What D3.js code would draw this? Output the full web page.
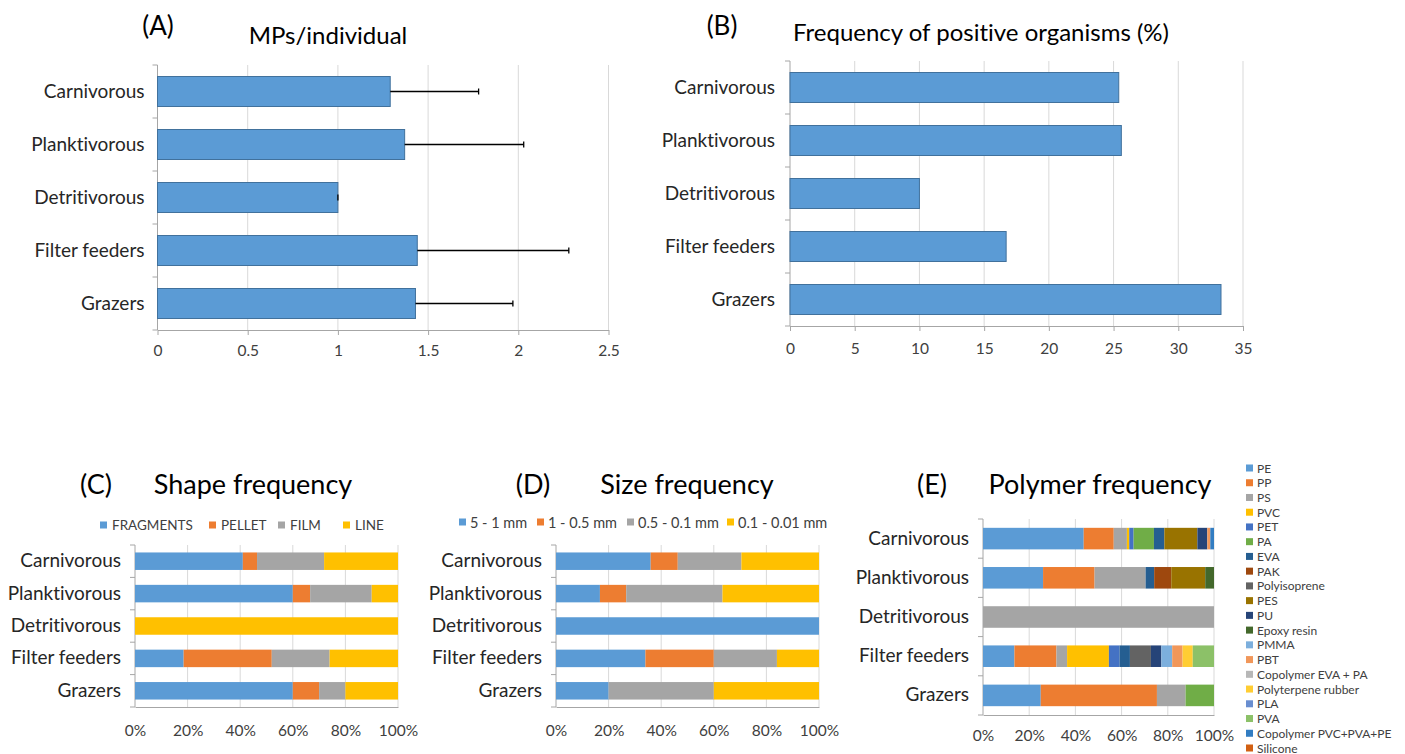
<!DOCTYPE html>
<html><head><meta charset="utf-8">
<script src="https://cdn.jsdelivr.net/npm/d3@7"></script>
<style>body{margin:0;background:#fff}svg{display:block;font-family:Lato,"Open Sans",sans-serif;font-variant-ligatures:none}</style>
</head><body><svg id="c" width="1405" height="754"></svg>
<script>
// ---------- DATA ----------
const categories = ["Carnivorous","Planktivorous","Detritivorous","Filter feeders","Grazers"];
const mpsPerIndividual = [1.29, 1.37, 1.00, 1.44, 1.43];
const mpsSD = [0.49, 0.66, 0.00, 0.84, 0.54];
const mpsTicks = [0, 0.5, 1, 1.5, 2, 2.5];
const positiveFreq = [25.4, 25.6, 10.0, 16.7, 33.3];
const positiveTicks = [0, 5, 10, 15, 20, 25, 30, 35];

const shapeKeys = ["FRAGMENTS","PELLET","FILM","LINE"];
const shapeFragments = [41, 60, 0, 18.5, 60];
const shapePellet    = [5.4, 6.6, 0, 33.5, 10];
const shapeFilm      = [25.5, 23.4, 0, 22, 10];
const shapeLine      = [28.1, 10, 100, 26, 20];

const sizeKeys = ["5 - 1 mm","1 - 0.5 mm","0.5 - 0.1 mm","0.1 - 0.01 mm"];
const size5to1     = [36, 16.7, 100, 34, 20];
const size1to05    = [10.3, 10, 0, 26, 0];
const size05to01   = [24.2, 36.6, 0, 24, 40];
const size01to001  = [29.5, 36.7, 0, 16, 40];

const pctTicks = [0, 0.2, 0.4, 0.6, 0.8, 1];

const polymerKeys = ["PE","PP","PS","PVC","PET","PA","EVA","PAK","Polyisoprene","PES","PU","Epoxy resin","PMMA","PBT","Copolymer EVA + PA","Polyterpene rubber","PLA","PVA","Copolymer PVC+PVA+PE","Silicone"];
const polymerColors = ["#5B9BD5","#ED7D31","#A5A5A5","#FFC000","#4472C4","#70AD47","#255E91","#9E480E","#636363","#997300","#264478","#43682B","#7CAFDD","#F1975A","#B7B7B7","#FFCD33","#698ED0","#8CC168","#327DC2","#D26012"];
const polyCarnivorous   = [43.6,13.0,5.7,1.0,1.9,8.8,4.5,0,0,14.3,4.3,0,0,1.3,0,0,0,0,1.6,0];
const polyPlanktivorous = [26.0,22.3,22.1,0,0,0,3.7,7.4,0,14.7,0,3.8,0,0,0,0,0,0,0,0];
const polyDetritivorous = [0,0,100,0,0,0,0,0,0,0,0,0,0,0,0,0,0,0,0,0];
const polyFilterFeeders = [13.6,18.2,4.6,18.1,4.6,0,4.5,0,9.1,0,4.5,0,4.7,4.5,0,4.4,0,9.2,0,0];
const polyGrazers       = [25.0,50.3,12.4,0,0,12.3,0,0,0,0,0,0,0,0,0,0,0,0,0,0];

// ---------- DRAW ----------
const svg = d3.select("#c");
const AX = "#a6a6a6", GRID = "#d9d9d9", TXT = "#262626", TICK = "#404040";

function frame(o) {
  const x = d3.scaleLinear().domain(o.domain).range([o.x0, o.x1]);
  const y = d3.scaleBand().domain(categories).range([o.y0, o.y1])
    .paddingInner(o.pad).paddingOuter(o.pad / 2);
  const g = svg.append("g");
  g.selectAll(".grid").data(o.ticks.slice(1)).join("line")
    .attr("x1", d => x(d)).attr("x2", d => x(d))
    .attr("y1", o.y0).attr("y2", o.y1)
    .attr("stroke", GRID).attr("stroke-width", 1);
  const xa = g.append("g").attr("transform", `translate(0,${o.y1})`)
    .call(d3.axisBottom(x).tickValues(o.ticks).tickFormat(o.fmt).tickSize(o.xTick).tickPadding(o.tickPad).tickSizeOuter(0));
  xa.select(".domain").attr("stroke", AX);
  xa.selectAll(".tick line").attr("stroke", AX);
  xa.selectAll("text").attr("fill", TICK).style("font-size", "15.5px").style("font-family", "Lato");
  const ya = g.append("g").attr("transform", `translate(${o.x0},0)`)
    .call(d3.axisLeft(y).tickSize(0).tickPadding(o.labelGap));
  ya.select(".domain").remove();
  ya.selectAll("text").attr("fill", TXT).style("font-size", "19px").style("font-family", "Lato");
  g.append("line").attr("x1", o.x0).attr("x2", o.x0).attr("y1", o.y0).attr("y2", o.y1)
    .attr("stroke", AX);
  g.selectAll(".bt").data(d3.range(categories.length + 1)).join("line")
    .attr("x1", o.x0 - 5).attr("x2", o.x0)
    .attr("y1", i => o.y0 + i * y.step()).attr("y2", i => o.y0 + i * y.step())
    .attr("stroke", AX);
  return {x, y, g};
}

function title(label, lx, text, tx, y, size, anchor) {
  svg.append("text").attr("x", lx).attr("y", y).attr("text-anchor", "middle")
    .attr("dominant-baseline", "central").style("font-size", size + "px").attr("fill", "#000").text(label);
  svg.append("text").attr("x", tx).attr("y", y).attr("text-anchor", anchor || "middle")
    .attr("dominant-baseline", "central").style("font-size", size + "px").attr("fill", "#000").text(text);
}

// Panel A
{
  const {x, y, g} = frame({x0:157.5, x1:608.5, y0:65, y1:330, domain:[0,2.5], ticks:mpsTicks,
    fmt:d => String(d), pad:0.434, labelGap:13, xTick:5, tickPad:10});
  const data = categories.map((c,i) => ({c, v:mpsPerIndividual[i], e:mpsSD[i]}));
  g.selectAll(".bar").data(data).join("rect")
    .attr("x", x(0)).attr("y", d => y(d.c)).attr("width", d => x(d.v) - x(0)).attr("height", y.bandwidth())
    .attr("fill", "#5B9BD5").attr("stroke", "#41719C").attr("stroke-width", 1);
  g.selectAll(".eb").data(data).join("line")
    .attr("x1", d => x(d.v)).attr("x2", d => x(d.v + d.e))
    .attr("y1", d => y(d.c) + y.bandwidth()/2).attr("y2", d => y(d.c) + y.bandwidth()/2)
    .attr("stroke", "#000").attr("stroke-width", 1.3);
  g.selectAll(".cap").data(data).join("line")
    .attr("x1", d => x(d.v + d.e)).attr("x2", d => x(d.v + d.e))
    .attr("y1", d => y(d.c) + y.bandwidth()/2 - 3).attr("y2", d => y(d.c) + y.bandwidth()/2 + 3)
    .attr("stroke", "#000").attr("stroke-width", 1.3);
  title("(A)", 158, "", 0, 25, 26);
  title("", 0, "MPs/individual", 328, 34, 24);
}

// Panel B
{
  const {x, y, g} = frame({x0:790, x1:1243, y0:61, y1:326, domain:[0,35], ticks:positiveTicks,
    fmt:d => String(d), pad:0.434, labelGap:15, xTick:5, tickPad:12});
  g.selectAll(".bar").data(categories.map((c,i) => ({c, v:positiveFreq[i]}))).join("rect")
    .attr("x", x(0)).attr("y", d => y(d.c)).attr("width", d => x(d.v) - x(0)).attr("height", y.bandwidth())
    .attr("fill", "#5B9BD5").attr("stroke", "#41719C").attr("stroke-width", 1);
  title("(B)", 722, "", 0, 25, 26);
  title("", 0, "Frequency of positive organisms (%)", 793, 31, 24, "start");
}

function stacked(o, keys, colors, arrays) {
  const {x, y, g} = frame({x0:o.x0, x1:o.x1, y0:o.y0, y1:o.y1, domain:[0,1], ticks:pctTicks,
    fmt:d3.format(".0%"), pad:o.pad, labelGap:14, xTick:0, tickPad:o.tickPad});
  const rows = categories.map((c,i) => {
    const r = {c}; keys.forEach((k,j) => r[k] = arrays[j][i]); return r;
  });
  const series = d3.stack().keys(keys).offset(d3.stackOffsetExpand)(rows);
  g.selectAll(".s").data(series).join("g").attr("fill", (d,i) => colors[i])
    .selectAll("rect").data(d => d).join("rect")
    .attr("x", d => x(d[0])).attr("width", d => x(d[1]) - x(d[0]))
    .attr("y", d => y(d.data.c)).attr("height", y.bandwidth());
}

const four = ["#5B9BD5","#ED7D31","#A5A5A5","#FFC000"];

// Panel C
stacked({x0:135, x1:398, y0:545, y1:707, pad:0.46, tickPad:18}, shapeKeys, four,
  [shapeFragments, shapePellet, shapeFilm, shapeLine]);
title("(C)", 96, "Shape frequency", 253, 483, 27);
{
  const lx = [100, 209, 278, 343];
  const lg = svg.append("g");
  shapeKeys.forEach((k,i) => {
    lg.append("rect").attr("x", lx[i]).attr("y", 521.5).attr("width", 7).attr("height", 7).attr("fill", four[i]);
    lg.append("text").attr("x", lx[i] + 12).attr("y", 525).attr("dominant-baseline","central")
      .style("font-size","13.5px").attr("fill","#404040").text(k);
  });
}

// Panel D
stacked({x0:556, x1:819, y0:545, y1:707, pad:0.46, tickPad:18}, sizeKeys, four,
  [size5to1, size1to05, size05to01, size01to001]);
title("(D)", 533, "Size frequency", 687, 483, 27);
{
  const lx = [459, 537, 627, 727];
  const lg = svg.append("g");
  sizeKeys.forEach((k,i) => {
    lg.append("rect").attr("x", lx[i]).attr("y", 518.5).attr("width", 7).attr("height", 7).attr("fill", four[i]);
    lg.append("text").attr("x", lx[i] + 11).attr("y", 522).attr("dominant-baseline","central")
      .style("font-size","14.5px").attr("fill","#404040").text(k);
  });
}

// Panel E
{
  const perCat = [polyCarnivorous, polyPlanktivorous, polyDetritivorous, polyFilterFeeders, polyGrazers];
  const arrays = polymerKeys.map((k,j) => perCat.map(a => a[j]));
  stacked({x0:983, x1:1214, y0:519, y1:715, pad:0.45, tickPad:15}, polymerKeys, polymerColors, arrays);
  title("(E)", 932, "Polymer frequency", 1100, 483, 27);
  const lg = svg.append("g");
  const ly = d3.scaleLinear().domain([0, polymerKeys.length - 1]).range([468, 748]);
  polymerKeys.forEach((k,i) => {
    lg.append("rect").attr("x", 1246).attr("y", ly(i) - 3.5).attr("width", 7).attr("height", 7).attr("fill", polymerColors[i]);
    lg.append("text").attr("x", 1257).attr("y", ly(i)).attr("dominant-baseline","central")
      .style("font-size","12px").attr("fill","#404040").text(k);
  });
}
</script></body></html>
